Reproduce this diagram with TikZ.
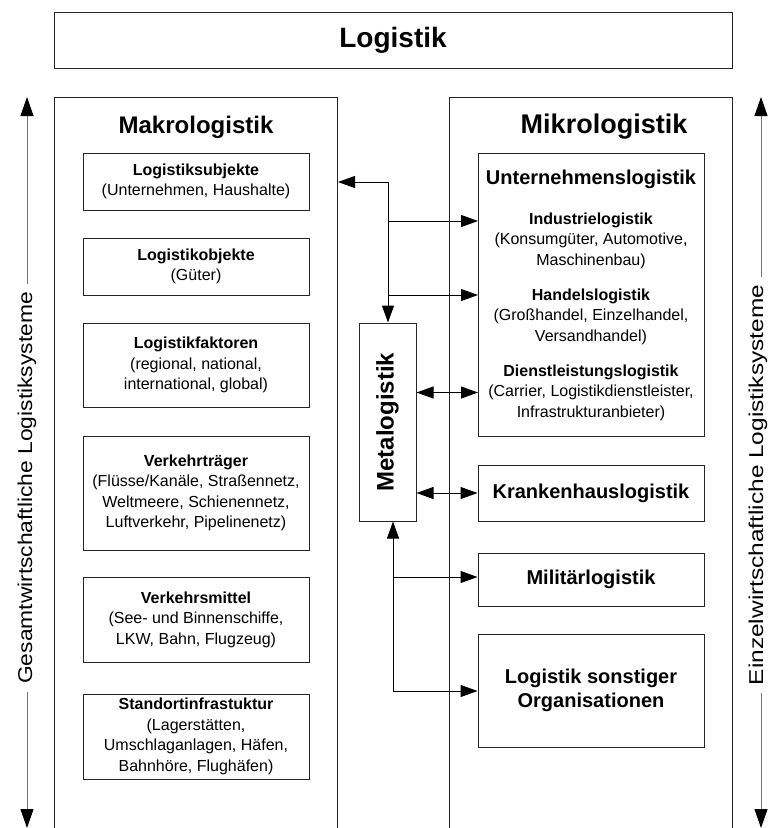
\documentclass[tikz,border=0pt]{standalone}
\usepackage{fontspec}
\setmainfont{Liberation Sans}
\usetikzlibrary{arrows.meta,calc}
\begin{document}
\begin{tikzpicture}[x=1pt,y=-1pt,
  frame/.style={draw=black!85, line width=1pt},
  ibox/.style={frame, fill=white, minimum width=226pt, align=center, inner sep=0pt,
    font=\fontsize{16}{20.5}\selectfont},
  subtext/.style={align=center, inner sep=0pt, font=\fontsize{16}{20.5}\selectfont},
  bigtitle/.style={font=\bfseries\fontsize{24}{28}\selectfont},
  midtitle/.style={align=center, font=\bfseries\fontsize{20}{24}\selectfont},
  conn/.style={line width=1pt, -{Triangle[length=17pt,width=12pt]}},
  dconn/.style={line width=1pt, {Triangle[length=17pt,width=12pt]}-{Triangle[length=17pt,width=12pt]}},
  side/.style={line width=1pt, draw=black!55,
    {Triangle[length=19pt,width=13pt,color=black]}-{Triangle[length=19pt,width=13pt,color=black]}},
  sidelabel/.style={rotate=90, fill=white, inner xsep=8pt, inner ysep=0pt,
    font=\fontsize{20}{22}\selectfont}
]
\useasboundingbox (0,0) rectangle (769,828);
\clip (0,0) rectangle (769,828);

% header
\node[frame, minimum width=678pt, minimum height=56pt, font=\bfseries\fontsize{28}{32}\selectfont]
  (logistik) at (393,40) {Logistik};

% two columns, open at the bottom
\node[frame, anchor=north west, minimum width=283pt, minimum height=760pt] (makro) at (54,97) {};
\node[frame, anchor=north west, minimum width=283pt, minimum height=760pt] (mikro) at (449,97) {};
\node[bigtitle] (makrot) at (196,127) {Makrologistik};
\node[font=\bfseries\fontsize{27}{30}\selectfont] (mikrot) at (604,127) {Mikrologistik};

% side axes
\coordinate (ltop) at (27,97);
\coordinate (lbot) at (27,828);
\coordinate (rtop) at (761,97);
\coordinate (rbot) at (761,828);
\draw[side] (lbot) -- (ltop);
\draw[side] (rbot) -- (rtop);
\node[sidelabel] (gesamt) at (27,488) {\scalebox{1.14}[1]{Gesamtwirtschaftliche Logistiksysteme}};
\node[sidelabel] (einzel) at (758,485) {\scalebox{1.22}[1]{Einzelwirtschaftliche Logistiksysteme}};

% macro logistics boxes
\node[ibox, minimum height=57pt] (subj) at (196,181.5)
  {\textbf{Logistiksubjekte}\\(Unternehmen, Haushalte)};
\node[ibox, minimum height=57pt] (obj) at (196,266.5)
  {\textbf{Logistikobjekte}\\(Güter)};
\node[ibox, minimum height=84pt] (fakt) at (196,365)
  {\textbf{Logistikfaktoren}\\(regional, national,\\international, global)};
\node[ibox, minimum height=114pt] (vtraeger) at (196,493)
  {\textbf{Verkehrträger}\\(Flüsse/Kanäle, Straßennetz,\\Weltmeere, Schienennetz,\\Luftverkehr, Pipelinenetz)};
\node[ibox, minimum height=85pt] (vmittel) at (196,619.5)
  {\textbf{Verkehrsmittel}\\(See- und Binnenschiffe,\\LKW, Bahn, Flugzeug)};
\node[ibox, minimum height=85pt] (standort) at (196,736.5)
  {\textbf{Standortinfrastuktur}\\(Lagerstätten,\\Umschlaganlagen, Häfen,\\Bahnhöre, Flughäfen)};

% micro logistics boxes
\node[frame, anchor=north west, minimum width=226pt, minimum height=283pt] (untern) at (478,153) {};
\node[midtitle] (unternt) at (591,179) {Unternehmenslogistik};
\node[subtext] (industrie) at (591,240.5)
  {\textbf{Industrielogistik}\\(Konsumgüter, Automotive,\\Maschinenbau)};
\node[subtext] (handel) at (591,316.5)
  {\textbf{Handelslogistik}\\(Großhandel, Einzelhandel,\\Versandhandel)};
\node[subtext] (dienst) at (591,392.5)
  {\textbf{Dienstleistungslogistik}\\(Carrier, Logistikdienstleister,\\Infrastrukturanbieter)};
\node[frame, midtitle, minimum width=226pt, minimum height=56pt] (kranken) at (591,493)
  {Krankenhauslogistik};
\node[frame, midtitle, minimum width=226pt, minimum height=53pt] (militaer) at (591,579.5)
  {Militärlogistik};
\node[frame, midtitle, minimum width=226pt, minimum height=113pt] (sonst) at (591,690.5)
  {Logistik sonstiger\\Organisationen};

% meta logistics
\node[frame, minimum width=57pt, minimum height=198pt] (meta) at (387.5,422) {};
\node[bigtitle, rotate=90] (metat) at (meta) {Metalogistik};

% connectors
\coordinate (j1) at (388,182);
\coordinate (j2) at (388,221);
\coordinate (j3) at (388,295);
\coordinate (k1) at (393,577);
\coordinate (k2) at (393,691);
\draw[conn] (j1) -- (j1 -| makro.east);
\draw[conn] (j1) -- (j1 |- meta.north);
\draw[conn] (j2) -- (j2 -| untern.west);
\draw[conn] (j3) -- (j3 -| untern.west);
\draw[dconn] (meta.east |- dienst.center) -- (untern.west |- dienst.center);
\draw[dconn] (meta.east |- kranken.west) -- (kranken.west);
\draw[conn] (k2) -- (k2 |- meta.south);
\draw[conn] (k1) -- (k1 -| militaer.west);
\draw[conn] (k2) -- (k2 -| sonst.west);
\end{tikzpicture}
\end{document}
